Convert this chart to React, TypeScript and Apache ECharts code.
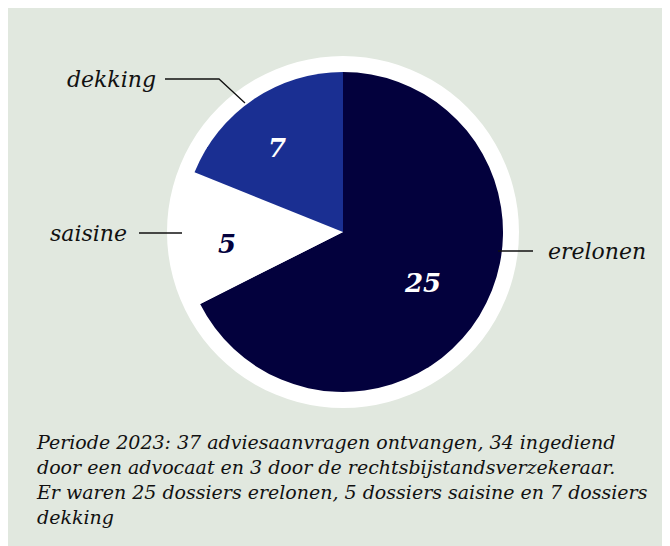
import React, { useEffect, useRef } from "react";
import * as echarts from "echarts";

const categories = ["erelonen", "saisine", "dekking"];
const values = [25, 5, 7];
const sliceColors = ["#03013d", "#ffffff", "#1a2f92"];
const valueLabelColors = ["#ffffff", "#03013d", "#ffffff"];
const captionLines = [
  "Periode 2023: 37 adviesaanvragen ontvangen, 34 ingediend",
  "door een advocaat en 3 door de rechtsbijstandsverzekeraar.",
  "Er waren 25 dossiers erelonen, 5 dossiers saisine en 7 dossiers",
  "dekking",
];

const CX = 335;
const CY = 224;
const R = 160;
const SERIF = "'DejaVu Serif', serif";

// label placement (layout only)
const innerLabelPos = [
  [415, 275],
  [219, 236],
  [269, 140],
];
const outerLabelLayout = [
  { x: 540, y: 243, align: "left", pts: [[490, 243], [506, 243], [525, 243]] },
  { x: 119, y: 225, align: "right", pts: [[174, 225], [150, 225], [131, 225]] },
  { x: 148, y: 71, align: "right", pts: [[237, 95], [211, 71], [157, 71]] },
];

export default function App() {
  const ref = useRef<HTMLDivElement>(null);
  useEffect(() => {
    if (!ref.current) return;
    const chart = echarts.init(ref.current, undefined, { renderer: "svg" });
    const data = categories.map((name, i) => ({
      name,
      value: values[i],
      itemStyle: { color: sliceColors[i] },
      label: { color: valueLabelColors[i] },
    }));
    chart.setOption({
      animation: false,
      backgroundColor: "#e1e8df",
      title: {
        text: captionLines.join("\n"),
        left: 29,
        top: 421,
        padding: 0,
        textStyle: {
          fontFamily: SERIF,
          fontStyle: "italic",
          fontWeight: "normal",
          fontSize: 19,
          lineHeight: 25,
          color: "#111111",
        },
      },
      series: [
        {
          type: "pie",
          silent: true,
          z: 1,
          center: [CX, CY],
          radius: R + 16,
          data: [{ value: 1, itemStyle: { color: "#ffffff" } }],
          label: { show: false },
          labelLine: { show: false },
        },
        {
          type: "pie",
          silent: true,
          z: 2,
          center: [CX, CY],
          radius: R,
          startAngle: 90,
          clockwise: true,
          data,
          label: {
            show: true,
            position: "inside",
            formatter: "{c}",
            fontFamily: SERIF,
            fontStyle: "italic",
            fontWeight: "bold",
            fontSize: 26,
          },
          labelLayout: (p: any) => ({
            x: innerLabelPos[p.dataIndex][0],
            y: innerLabelPos[p.dataIndex][1],
            align: "center",
            verticalAlign: "middle",
          }),
        },
        {
          type: "pie",
          silent: true,
          z: 5,
          center: [CX, CY],
          radius: R,
          startAngle: 90,
          clockwise: true,
          data: categories.map((name, i) => ({
            name,
            value: values[i],
            itemStyle: { color: "rgba(0,0,0,0)" },
          })),
          label: {
            show: true,
            position: "outside",
            formatter: "{b}",
            fontFamily: SERIF,
            fontStyle: "italic",
            fontWeight: "normal",
            fontSize: 22,
            color: "#111111",
          },
          labelLine: {
            show: true,
            lineStyle: { color: "#111111", width: 1.3 },
          },
          labelLayout: (p: any) => {
            const o = outerLabelLayout[p.dataIndex];
            return {
              x: o.x,
              y: o.y,
              align: o.align,
              verticalAlign: "middle",
              labelLinePoints: o.pts,
            };
          },
        },
      ],
    });
    return () => chart.dispose();
  }, []);
  return <div ref={ref} style={{ width: 662, height: 538 }} />;
}
